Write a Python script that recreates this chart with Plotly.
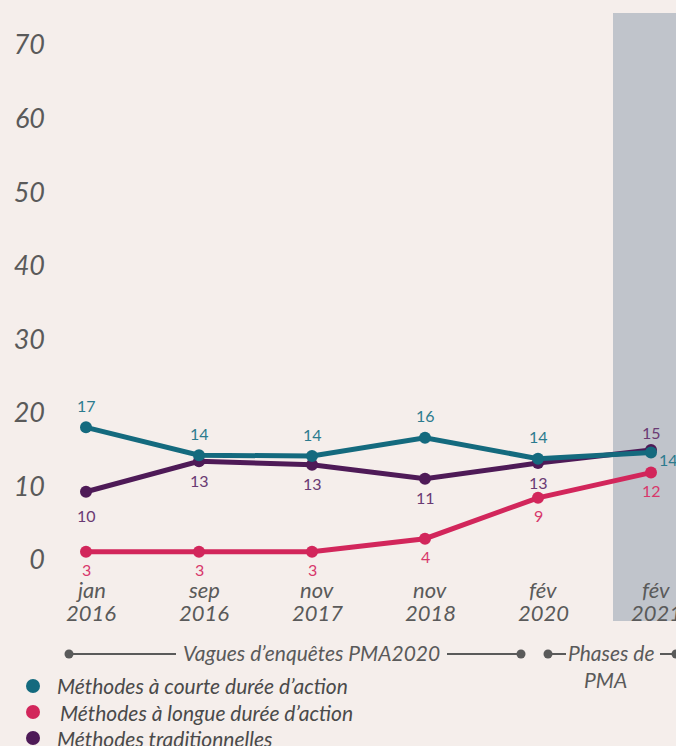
import plotly.graph_objects as go

# ---------------- data ----------------
months = ["jan", "sep", "nov", "nov", "fév", "fév"]
years = ["2016", "2016", "2017", "2018", "2020", "2021"]
categories = [f"{m} {y}" for m, y in zip(months, years)]

courte = [17.2, 14.0, 13.9, 16.0, 13.6, 14.3]        # Méthodes à courte durée d'action
longue = [2.9, 2.9, 2.9, 4.4, 9.1, 12.0]             # Méthodes à longue durée d'action
traditionnelles = [9.8, 13.3, 12.9, 11.3, 13.1, 14.6]  # Méthodes traditionnelles

axis_ticks = [0, 10, 20, 30, 40, 50, 60, 70]

legend_names = ["Méthodes à courte durée d’action",
                "Méthodes à longue durée d’action",
                "Méthodes traditionnelles"]
wave_label = "Vagues d’enquêtes PMA2020"
phase_label_1 = "Phases de"
phase_label_2 = "PMA"

# ---------------- styles ----------------
BG = "#F5EEEB"
TEAL, PINK, PURPLE = "#146A7E", "#D2265B", "#4E1A57"
TEAL_T, PINK_T, PURPLE_T = "#2C7B8E", "#D8386B", "#6A3A73"
GREY_TXT = "#5A5A5A"
FONT = "Lato"

W, H = 676, 746
PL, PR, PT, PB = 55, 676, 13, 580   # plot area in pixels


def fx(px):
    return (px - PL) / (PR - PL)


def fy(py):
    return (PB - py) / (PB - PT)


fig = go.Figure()

series = [
    (longue, PINK, PINK_T, "longue"),
    (traditionnelles, PURPLE, PURPLE_T, "trad"),
    (courte, TEAL, TEAL_T, "courte"),
]

for vals, col, tcol, key in series:
    fig.add_trace(go.Scatter(
        x=categories, y=vals, mode="lines+markers",
        line=dict(color=col, width=5),
        marker=dict(color=col, size=12),
        showlegend=False, hoverinfo="skip", yaxis="y"))

# dummy trace to activate the tick axis
fig.add_trace(go.Scatter(x=[categories[0]], y=[0], yaxis="y2", mode="markers",
                         marker=dict(opacity=0), showlegend=False, hoverinfo="skip"))

annotations = []
# data labels
n = len(categories)
for vals, col, tcol, key in series:
    for i, v in enumerate(vals):
        xs, ys, xa = 0, 0, "center"
        if key == "courte":
            ys = 22
            if i == n - 1:
                xs, ys = 17, -7
        elif key == "trad":
            ys = -24 if i == 0 else -19
            if i == n - 1:
                ys = 17
        else:
            ys = -18
        annotations.append(dict(
            x=categories[i], y=v, xref="x", yref="y", text=str(round(v)),
            showarrow=False, xshift=xs, yshift=ys, xanchor=xa, yanchor="middle",
            font=dict(family=FONT, size=16, color=tcol)))

# x labels (two lines)
for c, m, y in zip(categories, months, years):
    annotations.append(dict(x=c, y=0, xref="x", yref="paper", text=m, showarrow=False,
                            xshift=5, yshift=-9, yanchor="middle",
                            font=dict(family=FONT, size=22, color=GREY_TXT, style="italic")))
    annotations.append(dict(x=c, y=0, xref="x", yref="paper", text=y, showarrow=False,
                            xshift=5, yshift=-32, yanchor="middle",
                            font=dict(family=FONT, size=22, color=GREY_TXT, style="italic")))

# bracket labels
annotations.append(dict(x=fx(311), y=fy(652), xref="paper", yref="paper", text=wave_label,
                        showarrow=False, xanchor="center", yanchor="middle",
                        font=dict(family=FONT, size=21, color=GREY_TXT, style="italic")))
annotations.append(dict(x=fx(611), y=fy(652), xref="paper", yref="paper", text=phase_label_1,
                        showarrow=False, xanchor="center", yanchor="middle",
                        font=dict(family=FONT, size=21, color=GREY_TXT, style="italic")))
annotations.append(dict(x=fx(605), y=fy(679), xref="paper", yref="paper", text=phase_label_2,
                        showarrow=False, xanchor="center", yanchor="middle",
                        font=dict(family=FONT, size=21, color=GREY_TXT, style="italic")))

# legend
leg_cols = [TEAL, PINK, PURPLE]
leg_y = [686, 712, 738]
leg_x = [55, 58, 55]
shapes = []
for name, col, py, px in zip(legend_names, leg_cols, leg_y, leg_x):
    annotations.append(dict(x=fx(px), y=fy(py), xref="paper", yref="paper", text=name,
                            showarrow=False, xanchor="left", yanchor="middle",
                            font=dict(family=FONT, size=21, color="#4A4A4A", style="italic")))
    shapes.append(dict(type="circle", xref="paper", yref="paper",
                       x0=fx(26), x1=fx(40), y0=fy(py + 7), y1=fy(py - 7),
                       fillcolor=col, line=dict(width=0)))

# grey highlight band (fév 2021)
shapes.insert(0, dict(type="rect", xref="paper", yref="paper", x0=fx(613), x1=fx(720),
                      y0=fy(621), y1=1, fillcolor="#C0C4CB", line=dict(width=0), layer="below"))

# brackets
LC = "#5A5A5A"
for x0, x1 in [(69, 176), (447, 521), (548, 566), (660, 676)]:
    shapes.append(dict(type="line", xref="paper", yref="paper", x0=fx(x0), x1=fx(x1),
                       y0=fy(654), y1=fy(654), line=dict(color=LC, width=2)))
for cx in [69, 521, 548, 676]:
    shapes.append(dict(type="circle", xref="paper", yref="paper", x0=fx(cx - 4.5), x1=fx(cx + 4.5),
                       y0=fy(654 + 4.5), y1=fy(654 - 4.5), fillcolor=LC, line=dict(width=0)))

# axis ranges from pixel geometry
px_per_unit_data = 8.70
zero_data = 577
px_per_unit_tick = (560 - 45) / 70
zero_tick = 560
x_step = 113
x0_px = 86

fig.update_layout(
    width=W, height=H,
    margin=dict(l=PL, r=W - PR, t=PT, b=H - PB, pad=0),
    paper_bgcolor=BG, plot_bgcolor="rgba(0,0,0,0)",
    showlegend=False,
    xaxis=dict(type="category", categoryorder="array", categoryarray=categories,
               range=[-(x0_px - PL) / x_step, (PR - x0_px) / x_step],
               showgrid=False, zeroline=False, showticklabels=False, ticks="", showline=False),
    yaxis=dict(range=[-(PB - zero_data) / px_per_unit_data, (zero_data - PT) / px_per_unit_data],
               visible=False, showgrid=False, zeroline=False),
    yaxis2=dict(overlaying="y", side="left", anchor="x",
                range=[-(PB - zero_tick) / px_per_unit_tick, (zero_tick - PT) / px_per_unit_tick],
                tickvals=axis_ticks, ticktext=[str(t) for t in axis_ticks],
                showgrid=False, zeroline=False, showline=False, ticks="",
                ticklabelstandoff=9,
                tickfont=dict(family=FONT, size=27, color=GREY_TXT, style="italic")),
    annotations=annotations,
    shapes=shapes,
)

page_fix = ("document.body.style.margin='0';"
            "document.body.style.background='" + BG + "';"
            "document.documentElement.style.overflow='hidden';"
            "document.body.style.overflow='hidden';")

fig.write_html("out.html", post_script=page_fix,
               config={"displayModeBar": False, "staticPlot": True})
